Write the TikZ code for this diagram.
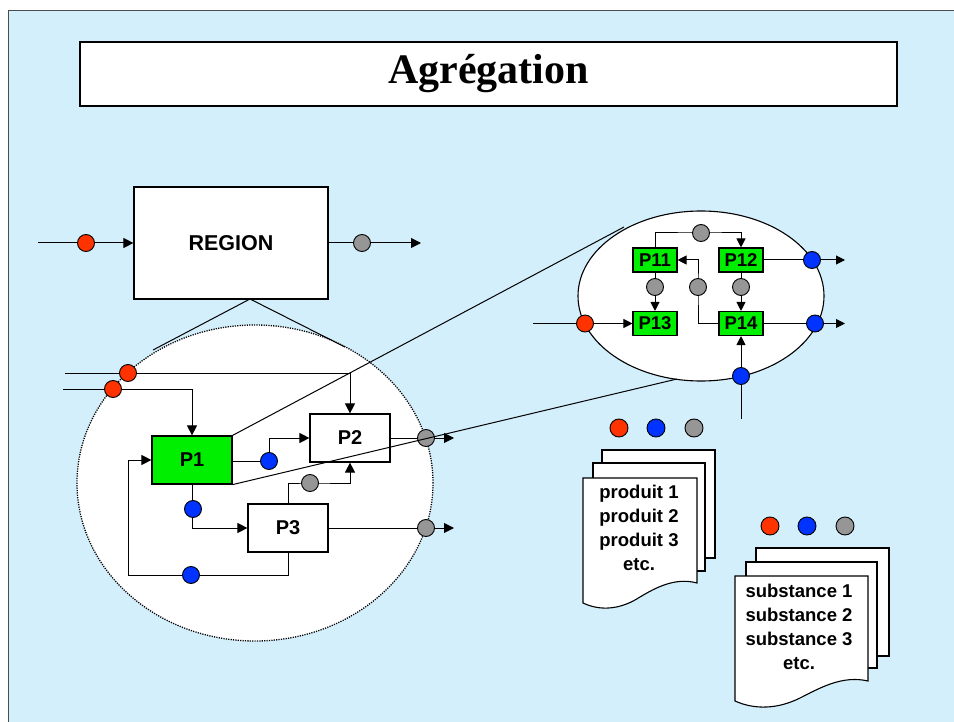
\documentclass[tikz,border=0pt]{standalone}
\usepackage{fontspec}
\setsansfont{Liberation Sans}
\newfontfamily\titlefont{Liberation Serif}
\usetikzlibrary{arrows.meta,shapes.geometric}
\pgfdeclarelayer{back}
\pgfdeclarelayer{lines}
\pgfsetlayers{back,lines,main}
\definecolor{bgblue}{RGB}{212,239,252}
\definecolor{pred}{RGB}{255,51,0}
\definecolor{pblue}{RGB}{0,51,255}
\definecolor{pgray}{RGB}{150,150,150}
\definecolor{pgreen}{RGB}{0,238,0}
\begin{document}
\begin{tikzpicture}[x=1pt,y=-1pt,
  proc/.style={draw, line width=1.2pt, rectangle, fill=white, minimum width=80pt, minimum height=48pt, inner sep=0pt, font=\sffamily\bfseries\fontsize{20}{23}\selectfont},
  gproc/.style={proc, fill=pgreen},
  sproc/.style={draw, line width=1.1pt, rectangle, fill=pgreen, minimum width=44pt, minimum height=24pt, inner sep=0pt, font=\sffamily\bfseries\fontsize{18.5}{21}\selectfont},
  dot/.style={circle, draw, line width=0.9pt, minimum size=17pt, inner sep=0pt},
  rdot/.style={dot, fill=pred},
  bdot/.style={dot, fill=pblue},
  gdot/.style={dot, fill=pgray},
  conn/.style={line width=1pt},
  arr/.style={conn, -{Triangle[length=10pt,width=10pt]}},
  sarr/.style={conn, -{Triangle[length=9pt,width=9pt]}},
  doc/.style={draw, line width=1.1pt, fill=white},
  doctext/.style={align=center, font=\sffamily\bfseries\fontsize{18.5}{24}\selectfont, inner sep=0pt}
]
\useasboundingbox (0,0) rectangle (954,722);

% ---------- background panel and ellipses ----------
\begin{pgfonlayer}{back}
\fill[bgblue] (8,11) rectangle (954,722);
\draw[line width=1pt, black!70] (8,722) -- (8,11) -- (954,11);
\node[ellipse, draw, fill=white, line width=1.3pt, dash pattern=on 1.2pt off 1.2pt, minimum width=356pt, minimum height=316pt, inner sep=0pt] (ellL) at (255,483) {};
\node[ellipse, draw, fill=white, line width=1.1pt, minimum width=246pt, minimum height=170pt, inner sep=0pt] (ellR) at (701,296) {};
\end{pgfonlayer}

% ---------- title ----------
\node[draw, line width=1.3pt, fill=white, minimum width=817pt, minimum height=64pt, inner sep=0pt] (title) at (488.5,74) {\titlefont\bfseries\fontsize{42}{46}\selectfont Agrégation};

% ---------- REGION ----------
\node[proc, minimum width=194pt, minimum height=112pt, font=\sffamily\bfseries\fontsize{21.5}{24}\selectfont] (region) at (231,243) {REGION};
\coordinate (rin) at (38,243);
\coordinate (rout) at (421,243);
\node[rdot] (rr) at (86,243) {};
\node[gdot] (rg) at (362,243) {};
\coordinate (apex) at (250,299);
\coordinate (eL) at (153,350);
\coordinate (eR) at (345,347);

% ---------- main processes ----------
\node[gproc] (P1) at (192,460) {P1};
\node[proc] (P2) at (350,438) {P2};
\node[proc] (P3) at (288,528) {P3};

\node[rdot] (r1) at (128,373) {};
\node[rdot] (r2) at (113,389) {};
\coordinate (in1) at (65,373);
\coordinate (in2) at (63,389);
\node[bdot] (b1) at (269,461) {};
\node[bdot] (b2) at (193,509) {};
\node[gdot] (g1) at (310,483) {};
\node[bdot] (b3) at (191,575) {};
\coordinate (lp) at (128,575);
\node[gdot] (g2) at (426,438) {};
\node[gdot] (g3) at (426,528) {};
\coordinate (o2) at (454,438);
\coordinate (o3) at (454,528);

% ---------- sub processes ----------
\node[sproc] (P11) at (655,260) {P11};
\node[sproc] (P12) at (741,260) {P12};
\node[sproc] (P13) at (655,323.5) {P13};
\node[sproc] (P14) at (741,323.5) {P14};
\node[gdot] (gt) at (701,233) {};
\node[gdot] (g11) at (655,287) {};
\node[gdot] (g12) at (741,287) {};
\node[gdot] (gm) at (698,287) {};
\node[rdot] (rs) at (585,323.5) {};
\node[bdot] (bo1) at (812,260) {};
\node[bdot] (bo2) at (815,323.5) {};
\node[bdot] (bb) at (741,376) {};
\coordinate (sin) at (533,323.5);
\coordinate (so1) at (845,260);
\coordinate (so2) at (845,323.5);
\coordinate (sbot) at (741,419);
\coordinate (z1) at (624,227);
\coordinate (z2) at (677,379);

% ---------- connectors (under the nodes) ----------
\begin{pgfonlayer}{lines}
\draw[arr] (rin) -- (region.west);
\draw[arr] (region.east) -- (rout);
\draw[conn] (apex) -- (eL);
\draw[conn] (apex) -- (eR);
\draw[arr] (in1) -| (P2.north);
\draw[arr] (in2) -| (P1.north);
\draw[conn] (P1.east |- b1) -- (b1.center);
\draw[arr] (b1.center) |- (P2.west);
\draw[arr] (P1.south) |- (P3.west);
\draw[arr] (P3.north) |- (g1.center) -| (P2.south);
\draw[arr] (P3.south) |- (lp) |- (P1.west);
\draw[arr] (P2.east) -- (o2);
\draw[arr] (P3.east) -- (o3);
\draw[sarr] (P11.north) |- (gt.center) -| (P12.north);
\draw[sarr] (P11.south) -- (P13.north);
\draw[sarr] (P12.south) -- (P14.north);
\draw[sarr] (P14.west) -| (gm.center) |- (P11.east);
\draw[sarr] (sin) -- (P13.west);
\draw[sarr] (P12.east) -- (so1);
\draw[sarr] (P14.east) -- (so2);
\draw[sarr] (sbot) -- (P14.south);
\end{pgfonlayer}

% zoom lines from P1 to the detail ellipse
\draw[conn] (P1.north east) -- (z1);
\draw[conn] (P1.south east) -- (z2);

% ---------- documents ----------
\node[rdot, minimum size=18pt] (d1r) at (619,428) {};
\node[bdot, minimum size=18pt] (d1b) at (656,428) {};
\node[gdot, minimum size=18pt] (d1g) at (694,428) {};
\draw[doc] (602,450) rectangle (715,558);
\draw[doc] (593,463) rectangle (705,571);
\draw[doc] (583,478) -- (697,478) -- (697,583)
  .. controls (675,577) and (655,588) .. (640,597)
  .. controls (620,610) and (600,611) .. (583,603) -- cycle;
\node[doctext] (t1) at (639,528) {produit 1\\produit 2\\produit 3\\etc.};

\node[rdot, minimum size=18pt] (d2r) at (770,526) {};
\node[bdot, minimum size=18pt] (d2b) at (807,526) {};
\node[gdot, minimum size=18pt] (d2g) at (845,526) {};
\draw[doc] (756,548) rectangle (889,656);
\draw[doc] (746,562) rectangle (877,668);
\draw[doc] (735,576) -- (868,576) -- (868,681)
  .. controls (842,675) and (820,688) .. (800,698)
  .. controls (778,709) and (755,710) .. (735,701) -- cycle;
\node[doctext] (t2) at (799,627) {substance 1\\substance 2\\substance 3\\etc.};
\end{tikzpicture}
\end{document}
